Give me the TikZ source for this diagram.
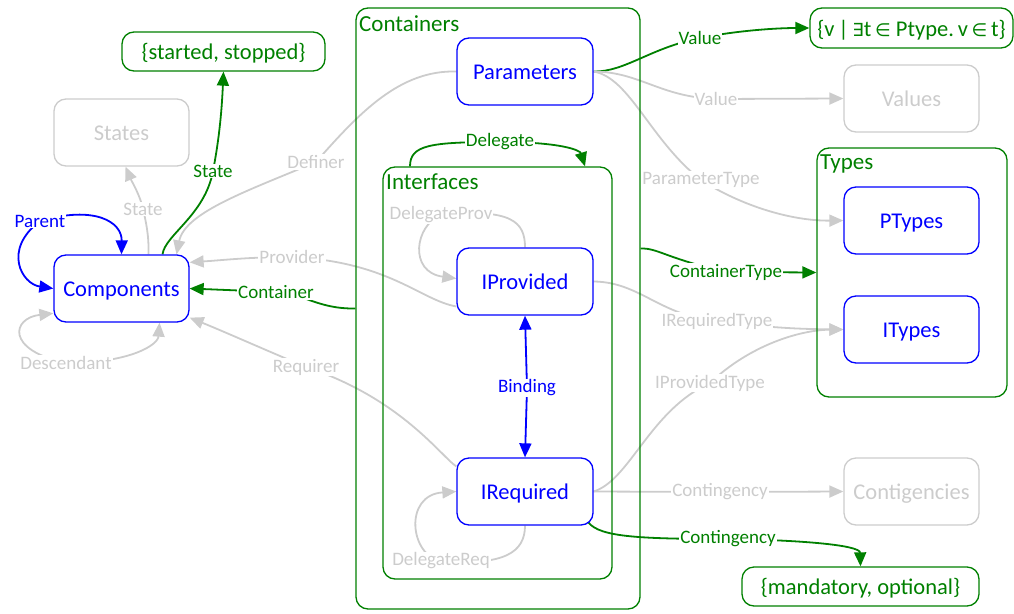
\documentclass[tikz,border=0pt]{standalone}
\usepackage{fontspec}
\setmainfont{Carlito}
\newfontfamily\symf{DejaVu Sans}
\usetikzlibrary{arrows.meta,calc,backgrounds}
\definecolor{gG}{RGB}{0,128,0}
\definecolor{bB}{RGB}{0,0,255}
\definecolor{lG}{RGB}{204,204,204}
\tikzset{
  box/.style={draw, rounded corners=12pt, line width=1.3pt, minimum width=135pt, minimum height=67pt, inner sep=0pt, text height=16pt, text depth=0pt, font=\fontsize{22.5}{26}\selectfont},
  bbox/.style={box, draw=bB, text=bB},
  gbox/.style={box, draw=lG, text=lG},
  setbox/.style={box, draw=gG, text=gG, minimum height=39pt},
  frame/.style={draw=gG, rounded corners=12pt, line width=1.3pt, inner sep=0pt},
  ftitle/.style={text=gG, anchor=north west, inner sep=0pt, font=\fontsize{23}{26}\selectfont},
  lab/.style={fill=white, inner sep=1pt, font=\fontsize{19}{22}\selectfont},
  glab/.style={lab, text=gG},
  blab/.style={lab, text=bB},
  llab/.style={lab, text=lG},
  tip/.style={-{Triangle[length=14pt,width=12pt]}},
  both/.style={{Triangle[length=14pt,width=12pt]}-{Triangle[length=14pt,width=12pt]}},
  ge/.style={draw=gG, line width=1.8pt, tip, gG},
  be/.style={draw=bB, line width=1.8pt, tip, bB},
  le/.style={draw=lG, line width=1.8pt, tip, lG},
}
\begin{document}
\begin{tikzpicture}[x=1pt,y=-1pt]
\path[use as bounding box] (0,0) rectangle (1014,613);

% frames
\node[frame, minimum width=284pt, minimum height=601pt] (cont) at (498,308.5) {};
\node[ftitle] at (359,15) {Containers};
\node[frame, minimum width=229pt, minimum height=412pt] (intf) at (497.5,373) {};
\node[ftitle] at (386,174) {Interfaces};
\node[frame, minimum width=190pt, minimum height=249pt] (types) at (912,272.5) {};
\node[ftitle] at (820,155) {Types};

% nodes
\node[setbox, minimum width=203pt] (ss) at (223.5,51.5) {\{started, stopped\}};
\node[gbox] (states) at (121.5,132.5) {States};
\node[bbox] (comp) at (121.5,288.5) {Components};
\node[bbox, minimum width=136pt] (param) at (525,71.5) {Parameters};
\node[bbox, minimum width=136pt] (iprov) at (525,281.5) {IProvided};
\node[bbox, minimum width=136pt] (ireq) at (525,491.5) {IRequired};
\node[setbox, minimum width=203pt, minimum height=40pt] (vset) at (911.5,28) {\{v\,|\,{\symf\fontsize{18}{20}\selectfont∃}t\,{\symf\fontsize{18}{20}\selectfont∈} Ptype.\,v\,{\symf\fontsize{18}{20}\selectfont∈}\,t\}};
\node[gbox] (values) at (911.5,98.5) {Values};
\node[bbox] (ptypes) at (911.5,220.5) {PTypes};
\node[bbox] (itypes) at (911.5,329.5) {ITypes};
\node[gbox] (contig) at (911.5,491.5) {Contigencies};
\node[setbox, minimum width=237pt] (mo) at (860.5,586.5) {\{mandatory, optional\}};

% edge labels
\node[blab] (lPar) at (40,221) {Parent};
\node[llab] (lDesc) at (66,363) {Descendant};
\node[llab] (lSt1) at (143,209) {State};
\node[glab] (lSt2) at (213,171) {State};
\node[llab] (lDef) at (316,162) {Definer};
\node[llab] (lProv) at (292,257) {Provider};
\node[glab] (lCont) at (276,292) {Container};
\node[llab] (lReq) at (306,367) {Requirer};
\node[glab] (lDel) at (500,142) {Delegate};
\node[llab] (lDP) at (441,215) {DelegateProv};
\node[llab] (lDR) at (441,561) {DelegateReq};
\node[blab] (lBind) at (527,388) {Binding};
\node[glab] (lVal1) at (700,38) {Value};
\node[llab] (lVal2) at (716,99) {Value};
\node[llab] (lPT) at (701,180) {ParameterType};
\node[glab] (lCT) at (726,272) {ContainerType};
\node[llab] (lIRT) at (717,321) {IRequiredType};
\node[llab] (lIPT) at (710,383) {IProvidedType};
\node[llab] (lCg1) at (720,492) {Contingency};
\node[glab] (lCg2) at (728,539) {Contingency};

% connectors
\begin{scope}[on background layer]
\draw[be, both]
  (comp.west) .. controls (22,284) and (2,250) .. (lPar.center)
  .. controls (95,205) and (122,222) .. (comp.north);
\draw[le, both]
  (comp.200) .. controls (12,318) and (5,350) .. (lDesc.center)
  .. controls (130,363) and (158,345) .. ($(comp.south)+(38,0)$);
\draw[le] ($(comp.north)+(27,0)$) .. controls (149,235) and (146,222) .. (lSt1.center)
  .. controls (140,195) and (132,182) .. ($(states.south)+(4,0)$);
\draw[ge] ($(comp.north)+(41,0)$) .. controls (165,235) and (205,215) .. (lSt2.center)
  .. controls (220,135) and (222,105) .. (ss.south);
\draw[le] (param.west) .. controls (400,70) and (360,112) .. (lDef.center)
  .. controls (250,190) and (185,212) .. ($(comp.north)+(55,0)$);
\draw[le] (iprov.200) .. controls (420,300) and (390,262) .. (lProv.center)
  .. controls (250,257) and (225,260) .. ($(comp.north east)+(0,8)$);
\draw[ge] (cont.west) .. controls (318,309) and (305,294) .. (lCont.center) -- (comp.east);
\draw[le] (ireq.160) .. controls (440,455) and (400,398) .. (lReq.center)
  .. controls (270,352) and (225,332) .. ($(comp.south east)+(0,-5)$);
\draw[ge] ($(intf.north)+(-87.5,0)$) .. controls (410,145) and (430,142) .. (lDel.center)
  .. controls (560,142) and (580,150) .. ($(intf.north)+(87.5,0)$);
\draw[le] (iprov.north) .. controls (525,222) and (512,208) .. (lDP.center)
  .. controls (415,225) and (408,272) .. ($(iprov.west)+(0,-3)$);
\draw[le] (ireq.south) .. controls (525,552) and (505,566) .. (lDR.center)
  .. controls (410,556) and (403,495) .. (ireq.west);
\draw[be, both] (iprov.south) -- (lBind.center) -- (ireq.north);
\draw[ge] (param.east) .. controls (625,72) and (650,48) .. (lVal1.center)
  .. controls (740,30) and (780,28) .. (vset.west);
\draw[le] (param.east) .. controls (640,72) and (660,97) .. (lVal2.center) -- (values.west);
\draw[le] (param.east) .. controls (630,78) and (650,140) .. (lPT.center)
  .. controls (740,205) and (790,221) .. (ptypes.west);
\draw[ge] ($(cont.east)+(0,-60)$) .. controls (658,248) and (665,258) .. (lCT.center) -- (types.west);
\draw[le] (iprov.east) .. controls (640,282) and (660,316) .. (lIRT.center)
  .. controls (770,328) and (800,329) .. (itypes.west);
\draw[le] (ireq.east) .. controls (630,480) and (650,410) .. (lIPT.center)
  .. controls (750,345) and (800,330) .. (itypes.west);
\draw[le] (ireq.east) -- (lCg1.center) -- (contig.west);
\draw[ge] ($(ireq.south east)+(-5,-3)$) .. controls (600,537) and (640,539) .. (lCg2.center)
  .. controls (800,540) and (860,545) .. (mo.north);
\end{scope}
\end{tikzpicture}
\end{document}
